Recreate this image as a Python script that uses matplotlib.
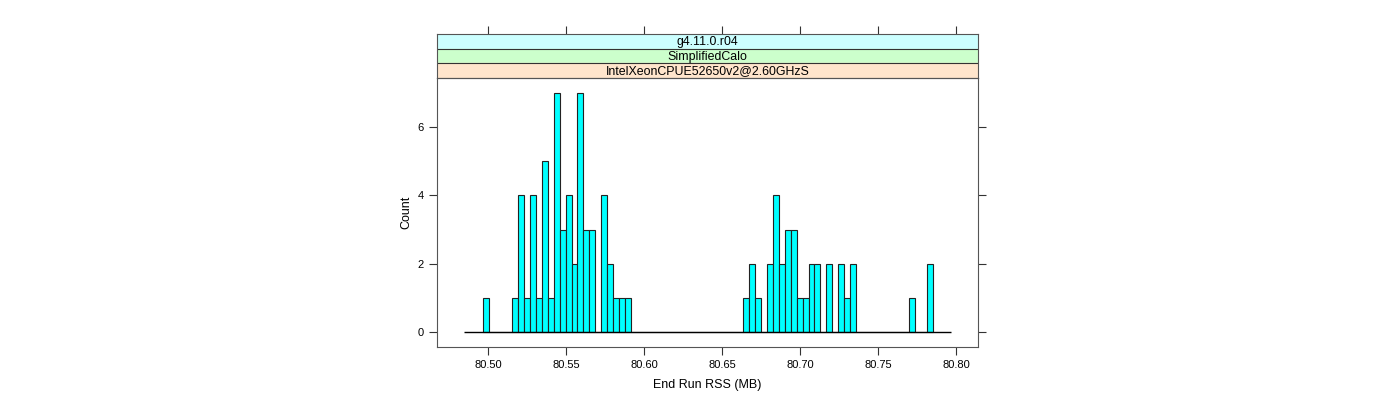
import matplotlib.pyplot as plt
import numpy as np

plt.rcParams['font.family'] = ['Liberation Sans', 'DejaVu Sans']

# histogram data (End Run RSS in MB)
bin_start = 80.4964
bin_width = 0.0038
counts = [1, 0, 0, 0, 0, 1, 4, 1, 4, 1, 5, 1, 7, 3, 4, 2, 7, 3, 3, 0,
          4, 2, 1, 1, 1, 0, 0, 0, 0, 0, 0, 0, 0, 0, 0, 0, 0, 0, 0, 0,
          0, 0, 0, 0, 1, 2, 1, 0, 2, 4, 2, 3, 3, 1, 1, 2, 2, 0, 2, 0,
          2, 1, 2, 0, 0, 0, 0, 0, 0, 0, 0, 0, 1, 0, 0, 2]
baseline_range = [80.4846, 80.7966]
x_ticks = [80.50, 80.55, 80.60, 80.65, 80.70, 80.75, 80.80]
y_ticks = [0, 2, 4, 6]
strip_labels = ['g4.11.0.r04', 'SimplifiedCalo', 'IntelXeonCPUE52650v2@2.60GHzS']
strip_colors = ['#ccffff', '#ccffcc', '#ffe5cc']

edges = bin_start + bin_width * np.arange(len(counts) + 1)

fig = plt.figure(figsize=(14, 4), dpi=100)
ax = fig.add_axes((0.3121, 0.1325, 0.3865, 0.6725))
ax.bar(edges[:-1], counts, width=bin_width, align='edge',
       color='#00ffff', edgecolor='#222222', linewidth=0.8)
ax.hlines(0, baseline_range[0], baseline_range[1], color='black', linewidth=1)

ax.set_xlim(80.4671, 80.8141)
ax.set_ylim(-0.45, 7.45)
ax.set_xticks(x_ticks)
ax.set_xticklabels(['%.2f' % t for t in x_ticks])
ax.set_yticks(y_ticks)
ax.tick_params(direction='out', length=6, width=0.8, labelsize=8,
               right=True, top=False, colors='#333333', labelcolor='black')
for s in ax.spines.values():
    s.set_color('#555555')
ax.set_xlabel('End Run RSS (MB)', fontsize=9, labelpad=6)
ax.set_ylabel('Count', fontsize=9)

# strips on top of the panel
sax = fig.add_axes((0.3121, 0.805, 0.3865, 0.11), sharex=ax)
sax.set_ylim(0, 3)
for i, (lab, col) in enumerate(zip(strip_labels, strip_colors)):
    sax.axhspan(2 - i, 3 - i, color=col)
    sax.axhline(2 - i, color='#333333', linewidth=0.8)
    sax.text(0.5, (2.45 - i) / 3, lab, transform=sax.transAxes,
             ha='center', va='center', fontsize=8.9)
sax.set_yticks([])
sax.tick_params(axis='x', direction='out', length=6, width=0.8, bottom=False,
                labelbottom=False, top=True, labeltop=False, colors='#333333')
for s in sax.spines.values():
    s.set_color('#555555')

fig.savefig('out.png')
